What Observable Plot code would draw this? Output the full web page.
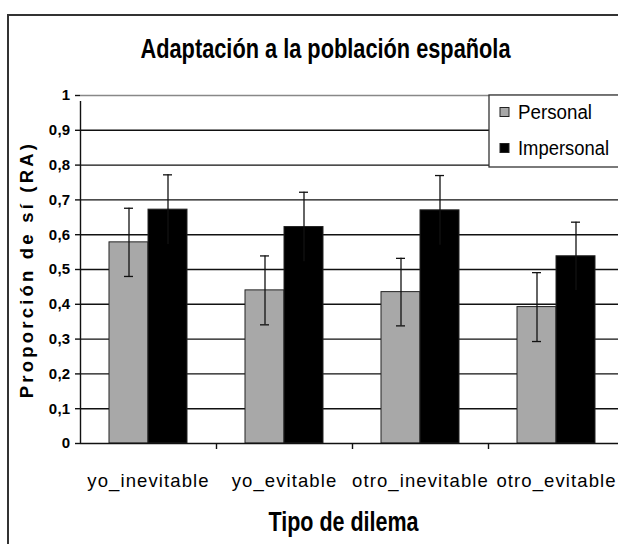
<!DOCTYPE html>
<html>
<head>
<meta charset="utf-8">
<script src="https://cdn.jsdelivr.net/npm/d3@7"></script>
<script src="https://cdn.jsdelivr.net/npm/@observablehq/plot@0.6"></script>
<style>
  html, body { margin: 0; padding: 0; background: #fff; overflow: hidden; }
  #chart { width: 618px; height: 544px; overflow: hidden; }
</style>
</head>
<body>
<div id="chart"></div>
<script>
const categories = ["yo_inevitable", "yo_evitable", "otro_inevitable", "otro_evitable"];
const series = ["Personal", "Impersonal"];
const personal = [0.578, 0.44, 0.435, 0.392];
const impersonal = [0.672, 0.622, 0.67, 0.538];
const personalErr = [0.098, 0.099, 0.097, 0.099];
const impersonalErr = [0.1, 0.1, 0.1, 0.098];
const yTicks = [0, 0.1, 0.2, 0.3, 0.4, 0.5, 0.6, 0.7, 0.8, 0.9, 1];
const yTickLabels = ["0", "0,1", "0,2", "0,3", "0,4", "0,5", "0,6", "0,7", "0,8", "0,9", "1"];
const title = "Adaptación a la población española";
const xTitle = "Tipo de dilema";
const yTitle = "Proporción de sí (RA)";
const colors = ["#a8a8a8", "#000000"];

const rowsP = categories.map((c, i) => ({cat: c, v: personal[i], e: personalErr[i]}));
const rowsI = categories.map((c, i) => ({cat: c, v: impersonal[i], e: impersonalErr[i]}));

const FONT = "'Liberation Sans', Arial, sans-serif";
const band = 136, barW = 39, off = 29, cap = 4.5;

const chart = Plot.plot({
  width: 618,
  height: 544,
  marginLeft: 80,
  marginRight: -6,
  marginTop: 95,
  marginBottom: 101,
  style: {fontFamily: FONT, background: "#fff", color: "#000", overflow: "visible"},
  x: {domain: categories, padding: 0},
  y: {domain: [0, 1]},
  marks: [
    Plot.ruleY(yTicks.slice(1, -1), {stroke: "#111", strokeWidth: 1.4}),
    Plot.ruleY(yTicks.slice(-1), {stroke: "#888", strokeWidth: 1.4}),
    Plot.barY(rowsP, {x: "cat", y: "v", fill: colors[0], stroke: "#222", strokeWidth: 1,
      insetLeft: off, insetRight: band - off - barW}),
    Plot.barY(rowsI, {x: "cat", y: "v", fill: colors[1], stroke: "#222", strokeWidth: 1,
      insetLeft: off + barW, insetRight: band - off - 2 * barW}),
    // error bars
    Plot.ruleX(rowsP, {x: "cat", y1: d => d.v - d.e, y2: d => d.v + d.e, dx: off + barW / 2 - band / 2, stroke: "#111", strokeWidth: 1.3}),
    Plot.tickY(rowsP, {x: "cat", y: d => d.v + d.e, insetLeft: off + barW / 2 - cap, insetRight: band - off - barW / 2 - cap, stroke: "#111", strokeWidth: 1.3}),
    Plot.tickY(rowsP, {x: "cat", y: d => d.v - d.e, insetLeft: off + barW / 2 - cap, insetRight: band - off - barW / 2 - cap, stroke: "#111", strokeWidth: 1.3}),
    Plot.ruleX(rowsI, {x: "cat", y1: d => d.v - d.e, y2: d => d.v + d.e, dx: off + 1.5 * barW - band / 2, stroke: "#111", strokeWidth: 1.3}),
    Plot.tickY(rowsI, {x: "cat", y: d => d.v + d.e, insetLeft: off + 1.5 * barW - cap, insetRight: band - off - 1.5 * barW - cap, stroke: "#111", strokeWidth: 1.3}),
    // axes lines
    Plot.ruleY([0], {stroke: "#111", strokeWidth: 1.4}),
    Plot.ruleX([categories[0]], {y1: 0, y2: 1, dx: -band / 2, insetBottom: -6, stroke: "#111", strokeWidth: 1.4}),
    Plot.ruleX(categories.slice(1), {y1: 0, y2: 0, dx: -band / 2, insetBottom: -6, stroke: "#111", strokeWidth: 1.4}),
    Plot.axisY({ticks: yTicks, tickFormat: d => yTickLabels[yTicks.indexOf(d)], tickSize: 5, tickPadding: 5,
      fontSize: 15, fontWeight: "bold", label: null, stroke: "#111", strokeWidth: 1.4}),
    Plot.axisX({tickSize: 0, tickPadding: 30, fontSize: 18.5, label: null}),
    // titles
    Plot.text([title], {frameAnchor: "top", dx: -27, dy: -57, fontSize: 27, fontWeight: "bold"}),
    Plot.text([xTitle], {frameAnchor: "bottom", dx: -9, dy: 87, fontSize: 27, fontWeight: "bold"}),
    Plot.text([yTitle], {frameAnchor: "left", textAnchor: "middle", dx: -53, rotate: -90, fontSize: 18.5, fontWeight: "bold"})
  ]
});

document.getElementById("chart").appendChild(chart);

const svg = d3.select(chart);
const byText = s => svg.selectAll("text").filter(function () { return this.textContent === s; });
// narrow, tightly set display lettering (as in the original figure)
byText(title).attr("textLength", 370).attr("lengthAdjust", "spacingAndGlyphs");
byText(xTitle).attr("textLength", 150).attr("lengthAdjust", "spacingAndGlyphs");
byText(yTitle).style("letter-spacing", "3.2px");
svg.selectAll("g[aria-label='x-axis tick label'] text").style("letter-spacing", "1.1px");
svg.selectAll("g[aria-label='y-axis tick label']").style("font-size", "15px");
svg.selectAll("g[aria-label='y-axis tick label'] text").style("letter-spacing", "0.3px");

// outer frame and legend
svg.append("rect").attr("x", 8).attr("y", 15).attr("width", 700).attr("height", 600)
  .attr("fill", "none").attr("stroke", "#333").attr("stroke-width", 2);
const lg = svg.append("g").attr("font-family", FONT).attr("text-anchor", "start");
lg.append("rect").attr("x", 489).attr("y", 95).attr("width", 200).attr("height", 72)
  .attr("fill", "#fff").attr("stroke", "#333").attr("stroke-width", 1.3);
const legendLen = [74, 91];
series.forEach((s, i) => {
  const cy = 112 + i * 36;
  lg.append("rect").attr("x", 500).attr("y", cy - 4.5).attr("width", 9).attr("height", 9)
    .attr("fill", colors[i]).attr("stroke", "#222").attr("stroke-width", 1);
  lg.append("text").attr("x", 518).attr("y", cy).attr("dy", "0.36em")
    .attr("font-size", 20).attr("fill", "#000").attr("text-anchor", "start")
    .attr("textLength", legendLen[i]).attr("lengthAdjust", "spacingAndGlyphs").text(s);
});
</script>
</body>
</html>
